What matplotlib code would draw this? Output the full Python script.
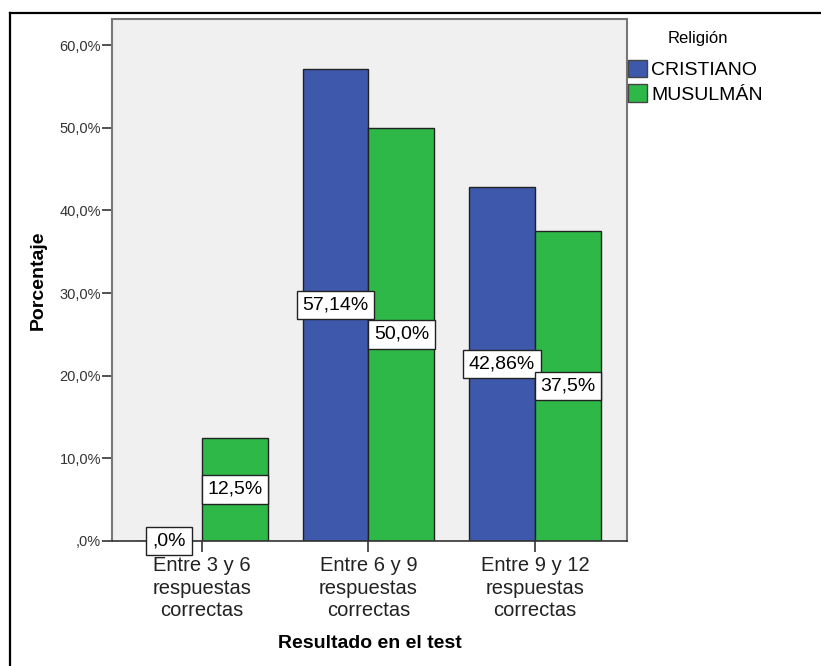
import matplotlib.pyplot as plt
from matplotlib.lines import Line2D
from matplotlib.patches import Patch

categories = ["Entre 3 y 6\nrespuestas\ncorrectas",
              "Entre 6 y 9\nrespuestas\ncorrectas",
              "Entre 9 y 12\nrespuestas\ncorrectas"]
cristiano = [0.0, 57.14, 42.86]
musulman = [12.5, 50.0, 37.5]
cristiano_labels = [",0%", "57,14%", "42,86%"]
musulman_labels = ["12,5%", "50,0%", "37,5%"]
y_ticks = [0, 10, 20, 30, 40, 50, 60]
y_tick_labels = [",0%", "10,0%", "20,0%", "30,0%", "40,0%", "50,0%", "60,0%"]

BLUE = "#3e58ac"
GREEN = "#2eb848"

plt.rcParams["font.family"] = ["Liberation Sans", "DejaVu Sans"]

fig = plt.figure(figsize=(8.21, 6.66), dpi=100)
ax = fig.add_axes([112 / 821, 1 - 541 / 666, (627 - 112) / 821, (541 - 19) / 666])
ax.set_facecolor("#f0f0f0")

x = list(range(len(categories)))
width = 0.396
xb = [v - width / 2 for v in x]
xg = [v + width / 2 for v in x]
ax.bar(xb, cristiano, width, color=BLUE, edgecolor="#222222", linewidth=1.0, zorder=2)
ax.bar(xg, musulman, width, color=GREEN, edgecolor="#222222", linewidth=1.0, zorder=2)

box = dict(boxstyle="square,pad=0.3", facecolor="white", edgecolor="#222222", linewidth=1.0)
for xi, val, lab in zip(xb, cristiano, cristiano_labels):
    ax.text(xi, val / 2, lab, ha="center", va="center", fontsize=14, bbox=box, zorder=5, clip_on=False)
for xi, val, lab in zip(xg, musulman, musulman_labels):
    ax.text(xi, val / 2, lab, ha="center", va="center", fontsize=14, bbox=box, zorder=5, clip_on=False)

ax.set_xlim(-0.5405, 2.5526)
ax.set_ylim(0, 63.15)
ax.set_yticks(y_ticks)
ax.set_yticklabels(y_tick_labels, fontsize=10.5, color="#333333")
ax.set_xticks(x)
ax.set_xticklabels(categories, fontsize=14.5, color="#222222", linespacing=1.22)
ax.tick_params(axis="y", direction="out", length=7, width=1.2, color="#333333", pad=1)
ax.tick_params(axis="x", direction="out", length=8, width=1.2, color="#333333", pad=3)

for side in ["left", "top", "right"]:
    ax.spines[side].set_color("#777777")
    ax.spines[side].set_linewidth(1.5)
ax.spines["bottom"].set_color("#333333")
ax.spines["bottom"].set_linewidth(1.2)

fig.text(38 / 821, 1 - 280 / 666, "Porcentaje", rotation=90, ha="center", va="center",
         fontsize=14, fontweight="bold")
fig.text(369.5 / 821, 1 - 643 / 666, "Resultado en el test", ha="center", va="center",
         fontsize=14, fontweight="bold")

fig.text(698 / 821, 1 - 38 / 666, "Religión", ha="center", va="center", fontsize=12)
handles = [Patch(facecolor=BLUE, edgecolor="#444444", label="CRISTIANO"),
           Patch(facecolor=GREEN, edgecolor="#444444", label="MUSULMÁN")]
fig.legend(handles=handles, loc="upper left", bbox_to_anchor=(628 / 821, 1 - 60 / 666),
           frameon=False, fontsize=14, handlelength=1.0, handleheight=1.0,
           handletextpad=0.2, labelspacing=0.25, borderpad=0, borderaxespad=0)

# outer frame (right and bottom edges fall outside the picture)
fig.add_artist(Line2D([9.5 / 821, 9.5 / 821], [0, 1 - 12.5 / 666], color="black", linewidth=1.6))
fig.add_artist(Line2D([9.5 / 821, 1], [1 - 12.5 / 666, 1 - 12.5 / 666], color="black", linewidth=1.6))

fig.savefig("out.png", dpi=100)
